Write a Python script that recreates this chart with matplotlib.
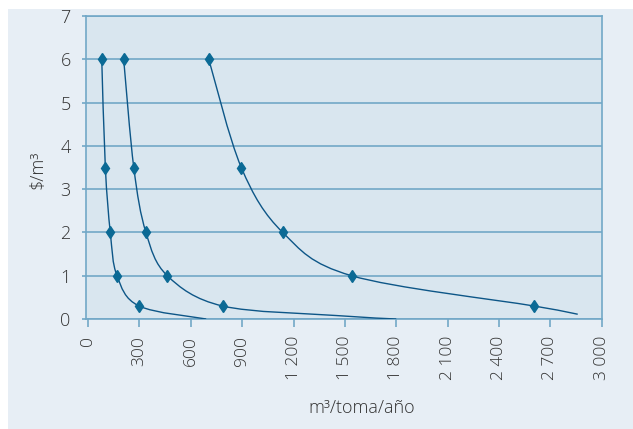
import numpy as np
import matplotlib.pyplot as plt
from matplotlib.path import Path
from matplotlib.patches import PathPatch, Rectangle
from matplotlib.ticker import FuncFormatter

# precio ($/m3) en cada punto marcado
precios = [6, 3.5, 2, 1, 0.3]

# consumo (m3/toma/año) de las tres curvas en los puntos marcados
consumo_1 = [80, 101, 130, 169, 298]
consumo_2 = [208, 267, 338, 463, 786]
consumo_3 = [705, 895, 1137, 1539, 2605]

# tramos finales de cada curva (sin marcador)
cola_1_x, cola_1_y = [690], [0]
cola_2_x, cola_2_y = [1450, 1800], [0.08, 0]
cola_3_x, cola_3_y = [2860], [0.11]

x_ticks = [0, 300, 600, 900, 1200, 1500, 1800, 2100, 2400, 2700, 3000]
y_ticks = [0, 1, 2, 3, 4, 5, 6, 7]

plt.rcParams['font.family'] = ['Open Sans', 'DejaVu Sans']

linea = '#0d5687'
marca = '#0b6a95'
azul_eje = '#72a8c7'
texto = '#333333'


# curva suavizada tipo Excel (Catmull-Rom convertida a Bezier cubica)
def smooth_path(xs, ys):
    pts = np.column_stack([xs, ys]).astype(float)
    ext = np.vstack([pts[0], pts, pts[-1]])
    verts = [pts[0]]
    codes = [Path.MOVETO]
    for i in range(1, len(ext) - 2):
        p0, p1, p2, p3 = ext[i - 1], ext[i], ext[i + 1], ext[i + 2]
        c1 = p1 + (p2 - p0) / 6.0
        c2 = p2 - (p3 - p1) / 6.0
        verts += [c1, c2, p2]
        codes += [Path.CURVE4] * 3
    return Path(verts, codes)


fig = plt.figure(figsize=(6.33, 4.29), dpi=100, facecolor='white')
fig.patches.append(Rectangle((8 / 633, 0), 1, 1 - 9 / 429, transform=fig.transFigure,
                             facecolor='#e7eef5', edgecolor='none', zorder=-10))
ax = fig.add_axes([86 / 633, 110 / 429, (601.7 - 86) / 633, (319 - 16) / 429])
ax.set_facecolor('#d9e6ef')

for cx, tx, ty in [(consumo_1, cola_1_x, cola_1_y),
                   (consumo_2, cola_2_x, cola_2_y),
                   (consumo_3, cola_3_x, cola_3_y)]:
    path = smooth_path(list(cx) + tx, precios + ty)
    ax.add_patch(PathPatch(path, facecolor='none', edgecolor=linea, lw=1.0, zorder=3))
    ax.plot(cx, precios, linestyle='none', marker='d', markersize=6.5,
            color=marca, zorder=4)

ax.set_xlim(-12, 3000)
ax.set_ylim(0, 7)
ax.set_xticks(x_ticks)
ax.set_yticks(y_ticks)
ax.xaxis.set_major_formatter(FuncFormatter(lambda v, p: f'{int(v):,}'.replace(',', ' ')))
ax.yaxis.grid(True, color=azul_eje, lw=1.2)
ax.set_axisbelow(True)
for s in ax.spines.values():
    s.set_color(azul_eje)
    s.set_linewidth(1.2)
ax.tick_params(axis='x', length=6, width=1.2, color=azul_eje, labelcolor=texto,
               labelsize=12.5, rotation=90, pad=6)
ax.tick_params(axis='y', length=3, width=1.2, color=azul_eje, labelcolor=texto,
               labelsize=13, pad=8)
for lab in ax.get_xticklabels() + ax.get_yticklabels():
    lab.set_fontweight('light')

fig.text(362 / 633, 1 - 408 / 429, 'm³/toma/año', ha='center', va='center',
         fontsize=13, color=texto, fontweight='light')
fig.text(38 / 633, 1 - 170 / 429, r'\$/m³', ha='center', va='center', rotation=90,
         fontsize=13, color=texto, fontweight='light')

fig.savefig('out.png', dpi=100, facecolor=fig.get_facecolor())
